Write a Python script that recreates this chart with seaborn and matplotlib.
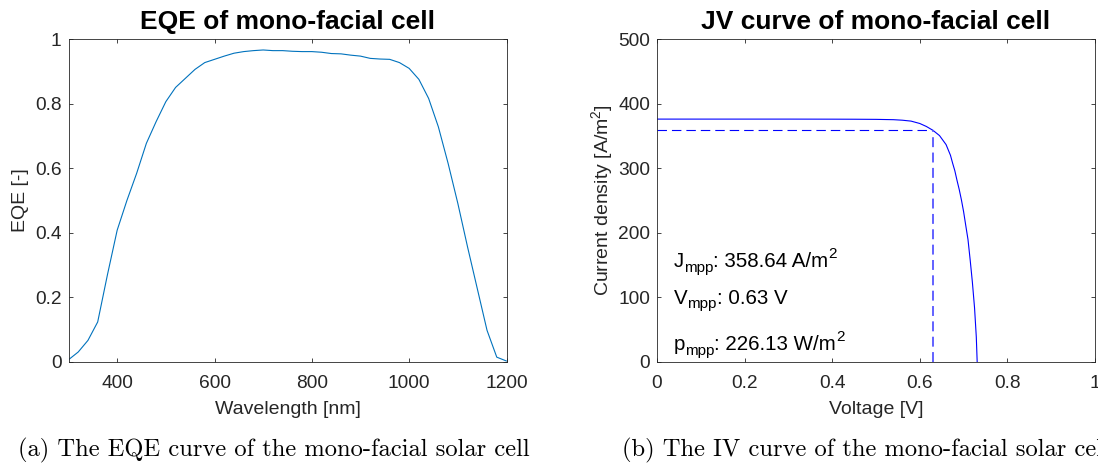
import numpy as np
import pandas as pd
import matplotlib
matplotlib.use("Agg")
import matplotlib.pyplot as plt
from matplotlib.ticker import FuncFormatter
from matplotlib.transforms import offset_copy
import seaborn as sns

# External quantum efficiency of the mono-facial cell
wavelength_nm = [300, 320, 340, 360, 380, 400, 420, 440, 460, 480, 500, 520, 540,
                 560, 580, 600, 620, 640, 660, 680, 700, 720, 740, 760, 780, 800,
                 820, 840, 860, 880, 900, 920, 940, 960, 980, 1000, 1020, 1040,
                 1060, 1080, 1100, 1120, 1140, 1160, 1180, 1200]
eqe = [0.007, 0.031, 0.067, 0.124, 0.27, 0.408, 0.50, 0.584, 0.677, 0.744, 0.806,
       0.850, 0.878, 0.906, 0.927, 0.937, 0.947, 0.956, 0.961, 0.964, 0.966, 0.964,
       0.964, 0.962, 0.961, 0.961, 0.959, 0.955, 0.954, 0.950, 0.947, 0.940, 0.938,
       0.937, 0.927, 0.909, 0.875, 0.816, 0.728, 0.615, 0.491, 0.356, 0.227, 0.098,
       0.015, 0.003]

# Current density versus voltage
voltage_v = [0.0, 0.1, 0.2, 0.3, 0.4, 0.45, 0.5, 0.54, 0.56, 0.58, 0.60, 0.615,
             0.63, 0.645, 0.66, 0.67, 0.675, 0.68, 0.685, 0.69, 0.695, 0.70, 0.705,
             0.71, 0.715, 0.72, 0.725, 0.729, 0.731]
current_density = [376.0, 376.0, 376.0, 376.0, 375.9, 375.8, 375.6, 375.1, 374.3,
                   372.9, 369.2, 364.6, 358.64, 350.5, 336.5, 320.0, 307.6, 296.0,
                   281.0, 267.0, 251.0, 232.7, 211.0, 189.7, 158.0, 123.8, 83.7,
                   38.7, 0.0]

# Maximum power point
V_MPP = 0.63
J_MPP = 358.64
P_MPP = 226.13

captions = ["(a) The EQE curve of the mono-facial solar cell",
            "(b) The IV curve of the mono-facial solar cell"]

sns.set_theme(style="white")
plt.rcParams["font.family"] = ["Liberation Sans", "DejaVu Sans"]
plt.rcParams["mathtext.fontset"] = "custom"
plt.rcParams["mathtext.rm"] = "Liberation Sans"
plt.rcParams["mathtext.it"] = "Liberation Sans:italic"
plt.rcParams["mathtext.bf"] = "Liberation Sans:bold"

AX_COLOR = "#262626"
W, H = 1098, 468
fig = plt.figure(figsize=(W / 100, H / 100), dpi=100)
fig.patch.set_facecolor("white")


def px_axes(x0, x1, y0, y1):
    return fig.add_axes([x0 / W, 1 - y1 / H, (x1 - x0) / W, (y1 - y0) / H])


ax1 = px_axes(68.5, 506.5, 39, 362)
ax2 = px_axes(657, 1095, 39, 362)

fmt = FuncFormatter(lambda v, p: f"{v:g}")


def style(ax):
    for s in ax.spines.values():
        s.set_color(AX_COLOR)
        s.set_linewidth(0.6)
        s.set_visible(True)
    ax.tick_params(direction="in", length=2.6, width=0.6, color=AX_COLOR,
                   labelcolor=AX_COLOR, labelsize=13.8, top=True, right=True,
                   bottom=True, left=True)
    ax.tick_params(axis="x", pad=9.5)
    ax.tick_params(axis="y", pad=5)
    ax.xaxis.set_major_formatter(fmt)
    ax.yaxis.set_major_formatter(fmt)
    ax.grid(False)
    ax.set_facecolor("white")


# EQE panel
eqe_df = pd.DataFrame({"wavelength": wavelength_nm, "eqe": eqe})
sns.lineplot(data=eqe_df, x="wavelength", y="eqe", ax=ax1, color="#0072BD",
             linewidth=0.8, sort=False)
ax1.set_xlim(300, 1200)
ax1.set_ylim(0, 1)
ax1.set_xticks([400, 600, 800, 1000, 1200])
ax1.set_yticks([0, 0.2, 0.4, 0.6, 0.8, 1.0])
style(ax1)
ax1.set_xlabel("Wavelength [nm]", fontsize=14, color=AX_COLOR, labelpad=6)
ax1.set_ylabel("EQE [-]", fontsize=14, color=AX_COLOR, labelpad=4)
ax1.set_title("EQE of mono-facial cell", fontsize=19, fontweight="bold",
              color="black", pad=7)

# JV panel
jv_df = pd.DataFrame({"voltage": voltage_v, "current": current_density})
sns.lineplot(data=jv_df, x="voltage", y="current", ax=ax2, color="#0000FF",
             linewidth=0.8, sort=False)
ax2.plot([0, V_MPP], [J_MPP, J_MPP], color="#0000FF", linewidth=0.8,
         dashes=(8.5, 4.5))
ax2.plot([V_MPP, V_MPP], [0, J_MPP], color="#5555FF", linewidth=1.3,
         dashes=(5.5, 3))
ax2.set_xlim(0, 1)
ax2.set_ylim(0, 500)
ax2.set_xticks([0, 0.2, 0.4, 0.6, 0.8, 1.0])
ax2.set_yticks([0, 100, 200, 300, 400, 500])
style(ax2)
ax2.set_xlabel("Voltage [V]", fontsize=14, color=AX_COLOR, labelpad=6)
ax2.set_ylabel(r"Current density [A/m$^{2}$]", fontsize=14, color=AX_COLOR,
               labelpad=2)
ax2.set_title("JV curve of mono-facial cell", fontsize=19, fontweight="bold",
              color="black", pad=7)

# Annotation with TeX-like sub/superscripts laid out piece by piece
renderer = fig.canvas.get_renderer()
MAIN, SMALL = 14.8, 11


def rich_text(ax, x, y, parts):
    xoff = 0.0
    for s, size, dy in parts:
        tr = offset_copy(ax.transData, fig=fig, x=xoff, y=dy, units="dots")
        t = ax.text(x, y, s, fontsize=size, color="black", ha="left",
                    va="baseline", transform=tr)
        xoff += t.get_window_extent(renderer).width


rich_text(ax2, 0.038, 147, [("J", MAIN, 0), ("mpp", SMALL, -4.5),
                            (f": {J_MPP:.2f} A/m", MAIN, 0), ("2", SMALL, 9)])
rich_text(ax2, 0.038, 90, [("V", MAIN, 0), ("mpp", SMALL, -4.5),
                           (f": {V_MPP:.2f} V", MAIN, 0)])
rich_text(ax2, 0.038, 18, [("p", MAIN, 0), ("mpp", SMALL, -4.5),
                           (f": {P_MPP:.2f} W/m", MAIN, 0), ("2", SMALL, 9)])

# Sub-figure captions
cap_kw = dict(fontsize=17.7, color="black", family="cmr10", va="baseline", ha="left")
fig.text(18 / W, 1 - 456 / H, captions[0], **cap_kw)
fig.text(622 / W, 1 - 456 / H, captions[1], **cap_kw)

fig.savefig("out.png", dpi=100, facecolor="white")
